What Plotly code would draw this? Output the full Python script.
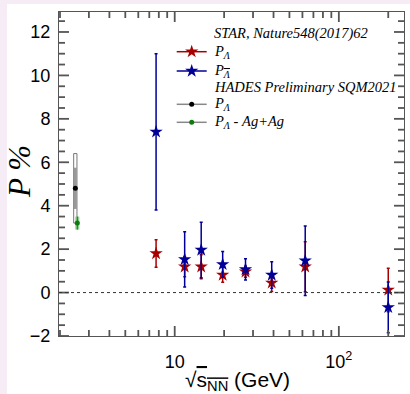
import plotly.graph_objects as go

# STAR global Lambda / anti-Lambda polarization (Nature 548 (2017) 62)
energies = [7.7, 11.5, 14.5, 19.6, 27, 39, 62.4, 200]
p_lambda = [1.80, 1.19, 1.19, 0.81, 0.96, 0.45, 1.19, 0.12]
p_lambda_err = [0.63, 0.46, 0.55, 0.34, 0.25, 0.40, 1.15, 1.00]
p_alambda = [7.40, 1.53, 1.96, 1.30, 1.07, 0.81, 1.47, -0.68]
p_alambda_err = [3.60, 1.27, 1.28, 0.59, 0.49, 0.61, 1.60, 1.17]

# HADES preliminary (SQM2021)
hades_e = [2.48]
hades_p = [4.80]
hades_stat = [0.95]
hades_sys = [1.60]
agag_e = [2.55]
agag_p = [3.20]
agag_err = [0.30]

x_ticks = [10, 100]
x_ticktext = ["10", "10<sup>2</sup>"]
x_minor = [2, 3, 4, 5, 6, 7, 8, 9, 20, 30, 40, 50, 60, 70, 80, 90, 200]
y_ticks = [-2, 0, 2, 4, 6, 8, 10, 12]
y_minor = [v / 2 for v in range(-4, 26) if v % 4 != 0]

RED = "#a80000"
BLUE = "#000099"
FRAME = "#555555"
W, H = 410, 394
L, R, T, B = 59, 6, 12, 58
PW, PH = W - L - R, H - T - B
X_RANGE = [0.295, 2.397]
Y_RANGE = [-2, 12.92]
MAJOR_LEN, MINOR_LEN = 10, 6


def px(x):
    return (x - L) / PW


def py(y):
    return (H - B - y) / PH


fig = go.Figure()

# HADES Au+Au: systematic box, statistical band, point
box_half = 10 ** 0.01
for e, p, s in zip(hades_e, hades_p, hades_sys):
    fig.add_trace(go.Scatter(
        x=[e / box_half, e * box_half, e * box_half, e / box_half, e / box_half],
        y=[p - s, p - s, p + s, p + s, p - s],
        mode="lines", fill="toself", fillcolor="white",
        line=dict(color="#777777", width=1), hoverinfo="skip", showlegend=False))
fig.add_trace(go.Scatter(
    x=hades_e, y=hades_p, mode="markers",
    marker=dict(color="black", size=5),
    error_y=dict(type="data", array=hades_stat, color="#999999", thickness=3, width=0),
    showlegend=False))

# HADES Ag+Ag
fig.add_trace(go.Scatter(
    x=agag_e, y=agag_p, mode="markers",
    marker=dict(color="rgba(0,0,0,0)", size=1),
    error_y=dict(type="data", array=agag_err, color="#8fcc8f", thickness=4, width=0),
    showlegend=False))
fig.add_trace(go.Scatter(
    x=agag_e, y=agag_p, mode="markers",
    marker=dict(color="#0b7d0b", size=5),
    error_y=dict(type="data", array=agag_err, color="#0b7d0b", thickness=1, width=0),
    showlegend=False))

# STAR
fig.add_trace(go.Scatter(
    x=energies, y=p_lambda, mode="markers",
    marker=dict(symbol="star", color=RED, size=10),
    error_y=dict(type="data", array=p_lambda_err, color=RED, thickness=1.5, width=1.5),
    showlegend=False))
fig.add_trace(go.Scatter(
    x=energies, y=p_alambda, mode="markers",
    marker=dict(symbol="star", color=BLUE, size=10),
    error_y=dict(type="data", array=p_alambda_err, color=BLUE, thickness=1.5, width=1.5),
    showlegend=False))

# legend glyphs on an overlay axis spanning the plot area
leg_x0, leg_x1, leg_xm = px(176.7), px(206.7), px(191.7)
leg_rows = [
    (51.7, RED, "star", 10, RED),
    (71.0, BLUE, "star", 10, BLUE),
    (104.3, "#888888", "circle", 5, "black"),
    (122.3, "#888888", "circle", 5, "#0b7d0b"),
]
for yy, lc, sym, sz, mc in leg_rows:
    fig.add_trace(go.Scatter(
        x=[leg_x0, leg_x1], y=[py(yy), py(yy)], xaxis="x2", yaxis="y2",
        mode="lines", line=dict(color=lc, width=1.5), hoverinfo="skip", showlegend=False))
    fig.add_trace(go.Scatter(
        x=[leg_xm], y=[py(yy)], xaxis="x2", yaxis="y2",
        mode="markers", marker=dict(symbol=sym, color=mc, size=sz),
        hoverinfo="skip", showlegend=False))


def tick_path(vals, length, horizontal):
    """Segments for tick marks along the top (x values) or right (y values) edge."""
    a, b = [], []
    for v in vals:
        if horizontal:
            a += [v, v, None]
            b += [1, 1 - length / PH, None]
        else:
            a += [1, 1 - length / PW, None]
            b += [v, v, None]
    return a, b


# ticks on all four edges, drawn as line segments
tick_style = dict(color=FRAME, width=1.8)
for vals, ln in ((x_ticks, MAJOR_LEN), (x_minor, MINOR_LEN)):
    xs, ys = tick_path(vals, ln, True)
    ys_b = [None if y is None else 1 - y for y in ys]
    for yv in (ys, ys_b):
        fig.add_trace(go.Scatter(x=xs, y=yv, xaxis="x", yaxis="y2", mode="lines",
                                 line=tick_style, hoverinfo="skip", showlegend=False))
for vals, ln in ((y_ticks, MAJOR_LEN), (y_minor, MINOR_LEN)):
    xs, ys = tick_path(vals, ln, False)
    xs_l = [None if x is None else 1 - x for x in xs]
    for xv in (xs, xs_l):
        fig.add_trace(go.Scatter(x=xv, y=ys, xaxis="x2", yaxis="y", mode="lines",
                                 line=tick_style, hoverinfo="skip", showlegend=False))

serif = dict(family="Liberation Serif", size=14.5, color="black", style="italic")
leg_text = [
    (33.3, "STAR, Nature548(2017)62"),
    (51.7, "P<sub>Λ</sub>"),
    (71.0, "P<sub><span style='text-decoration:overline'>Λ</span></sub>"),
    (87.3, "HADES Preliminary SQM2021"),
    (104.3, "P<sub>Λ</sub>"),
    (122.3, "P<sub>Λ</sub> - Ag+Ag"),
]
annotations = [
    dict(x=px(212), y=py(yy), xref="paper", yref="paper", text=t, showarrow=False,
         xanchor="left", yanchor="middle", font=serif)
    for yy, t in leg_text
]
annotations.append(dict(
    x=px(19), y=py(172), xref="paper", yref="paper", text="P %", textangle=-90,
    showarrow=False, xanchor="center", yanchor="middle",
    font=dict(family="Liberation Serif", size=31, color="black", style="italic")))
annotations.append(dict(
    x=px(237), y=py(381), xref="paper", yref="paper",
    text="√<span style='text-decoration:overline'>s<sub>NN</sub></span> (GeV)",
    showarrow=False, xanchor="center", yanchor="middle",
    font=dict(family="Liberation Sans", size=21, color="black")))

shapes = [
    dict(type="rect", xref="paper", yref="paper", x0=px(7), x1=px(W + 5),
         y0=py(H + 5), y1=py(4), fillcolor="white", line=dict(width=0), layer="below"),
    dict(type="line", xref="paper", yref="y", x0=0, x1=1, y0=0, y1=0,
         line=dict(color="#333333", width=1, dash="dot")),
]

tick_font = dict(family="Liberation Sans", size=18, color="black")
fig.update_layout(
    width=W, height=H, autosize=False,
    margin=dict(l=L, r=R, t=T, b=B, pad=0),
    paper_bgcolor="#f5ecf5", plot_bgcolor="white",
    showlegend=False,
    annotations=annotations,
    shapes=shapes,
    xaxis=dict(
        type="log", range=X_RANGE,
        tickmode="array", tickvals=x_ticks, ticktext=x_ticktext, ticks="",
        showline=True, linecolor=FRAME, linewidth=1, mirror=True,
        showgrid=False, zeroline=False, tickfont=tick_font, ticklabelstandoff=9,
    ),
    yaxis=dict(
        range=Y_RANGE, tickmode="array", tickvals=y_ticks, ticks="",
        showline=True, linecolor=FRAME, linewidth=1, mirror=True,
        showgrid=False, zeroline=False, tickfont=tick_font, ticklabelstandoff=4,
    ),
    xaxis2=dict(range=[0, 1], overlaying="x", visible=False, fixedrange=True),
    yaxis2=dict(range=[0, 1], overlaying="y", visible=False, fixedrange=True),
)

fig.write_html("out.html")
